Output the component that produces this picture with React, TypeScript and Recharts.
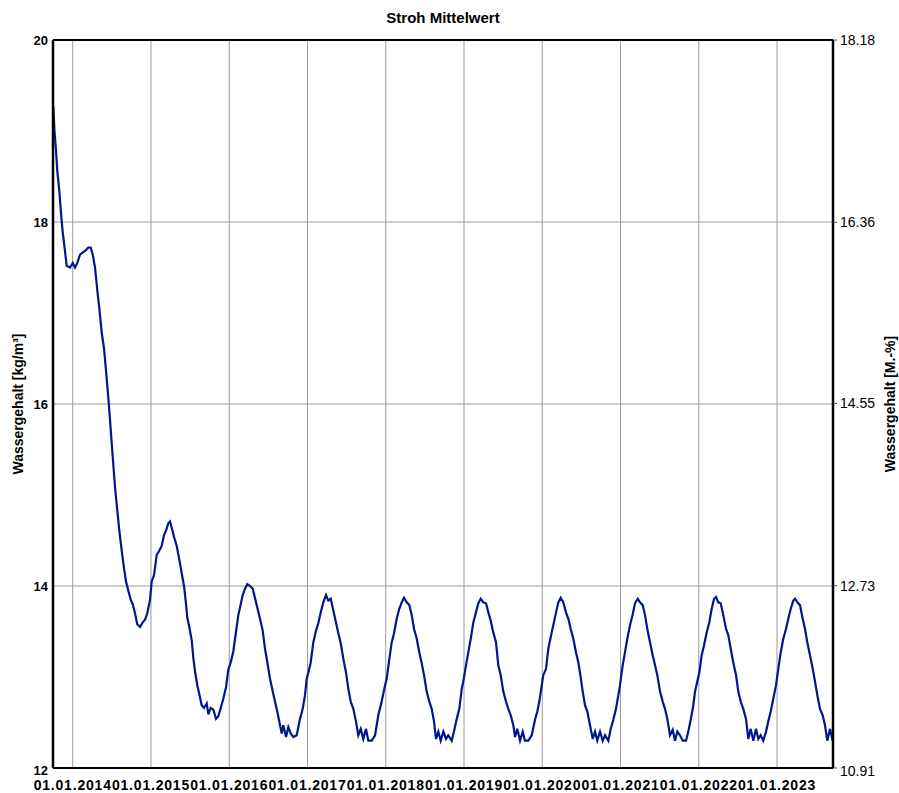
import React from "react";
import { LineChart, Line, XAxis, YAxis, CartesianGrid, ReferenceLine } from "recharts";

// decimal year of each reading
const years: number[] = [
  2013.752, 2013.767, 2013.787, 2013.803, 2013.829, 2013.851, 2013.872, 2013.893, 2013.923, 2013.966,
  2014.000, 2014.029, 2014.059, 2014.093, 2014.135, 2014.170, 2014.199, 2014.230, 2014.256, 2014.285,
  2014.314, 2014.340, 2014.371, 2014.400, 2014.426, 2014.455, 2014.477, 2014.498, 2014.519, 2014.541,
  2014.570, 2014.595, 2014.626, 2014.656, 2014.681, 2014.710, 2014.741, 2014.767, 2014.796, 2014.825,
  2014.860, 2014.894, 2014.924, 2014.953, 2014.988, 2015.009, 2015.039, 2015.073, 2015.107, 2015.137,
  2015.167, 2015.192, 2015.222, 2015.243, 2015.265, 2015.294, 2015.329, 2015.362, 2015.393, 2015.422,
  2015.448, 2015.464, 2015.490, 2015.521, 2015.541, 2015.563, 2015.592, 2015.618, 2015.648, 2015.678,
  2015.712, 2015.733, 2015.763, 2015.797, 2015.831, 2015.861, 2015.891, 2015.924, 2015.959, 2015.988,
  2016.019, 2016.052, 2016.087, 2016.116, 2016.147, 2016.172, 2016.202, 2016.231, 2016.266, 2016.300,
  2016.351, 2016.393, 2016.428, 2016.457, 2016.487, 2016.521, 2016.556, 2016.585, 2016.614, 2016.649,
  2016.671, 2016.691, 2016.726, 2016.755, 2016.786, 2016.819, 2016.862, 2016.904, 2016.939, 2016.968,
  2016.990, 2017.011, 2017.041, 2017.074, 2017.109, 2017.138, 2017.169, 2017.202, 2017.237, 2017.266,
  2017.297, 2017.330, 2017.364, 2017.394, 2017.425, 2017.458, 2017.492, 2017.522, 2017.552, 2017.586,
  2017.620, 2017.649, 2017.680, 2017.713, 2017.748, 2017.777, 2017.821, 2017.863, 2017.905, 2017.948,
  2017.991, 2018.012, 2018.046, 2018.076, 2018.106, 2018.140, 2018.173, 2018.204, 2018.233, 2018.268,
  2018.301, 2018.332, 2018.361, 2018.396, 2018.429, 2018.460, 2018.489, 2018.523, 2018.557, 2018.587,
  2018.617, 2018.642, 2018.672, 2018.702, 2018.736, 2018.770, 2018.799, 2018.843, 2018.872, 2018.907,
  2018.940, 2018.971, 2018.991, 2019.026, 2019.055, 2019.086, 2019.119, 2019.153, 2019.183, 2019.213,
  2019.247, 2019.281, 2019.311, 2019.341, 2019.374, 2019.409, 2019.438, 2019.469, 2019.502, 2019.537,
  2019.566, 2019.597, 2019.630, 2019.652, 2019.681, 2019.716, 2019.750, 2019.779, 2019.822, 2019.865,
  2019.907, 2019.937, 2019.962, 2020.013, 2020.048, 2020.077, 2020.108, 2020.141, 2020.176, 2020.205,
  2020.236, 2020.269, 2020.303, 2020.333, 2020.363, 2020.397, 2020.431, 2020.461, 2020.482, 2020.517,
  2020.546, 2020.576, 2020.610, 2020.645, 2020.674, 2020.703, 2020.738, 2020.772, 2020.802, 2020.844,
  2020.875, 2020.908, 2020.942, 2020.972, 2020.993, 2021.028, 2021.057, 2021.087, 2021.121, 2021.156,
  2021.185, 2021.220, 2021.249, 2021.283, 2021.313, 2021.342, 2021.377, 2021.411, 2021.441, 2021.470,
  2021.505, 2021.539, 2021.568, 2021.598, 2021.632, 2021.667, 2021.696, 2021.726, 2021.760, 2021.795,
  2021.837, 2021.866, 2021.897, 2021.930, 2021.952, 2021.981, 2022.007, 2022.037, 2022.067, 2022.101,
  2022.134, 2022.165, 2022.195, 2022.220, 2022.249, 2022.280, 2022.313, 2022.348, 2022.377, 2022.408,
  2022.441, 2022.476, 2022.505, 2022.536, 2022.569, 2022.603, 2022.633, 2022.663, 2022.697, 2022.731,
  2022.761, 2022.791, 2022.824, 2022.859, 2022.888, 2022.919, 2022.952, 2022.987, 2023.016, 2023.047,
  2023.080, 2023.115, 2023.144, 2023.175, 2023.208, 2023.230, 2023.259, 2023.293, 2023.328, 2023.357,
  2023.387, 2023.421, 2023.456, 2023.485, 2023.515, 2023.549, 2023.583, 2023.613, 2023.642, 2023.677,
  2023.711,
];

// Wassergehalt [kg/m³]
const water: number[] = [
  19.27, 19.00, 18.78, 18.56, 18.34, 18.09, 17.89, 17.74, 17.52, 17.50,
  17.55, 17.50, 17.55, 17.64, 17.67, 17.69, 17.72, 17.72, 17.64, 17.50,
  17.25, 17.05, 16.78, 16.61, 16.36, 16.07, 15.82, 15.57, 15.33, 15.08,
  14.83, 14.61, 14.39, 14.19, 14.05, 13.95, 13.85, 13.80, 13.70, 13.58,
  13.55, 13.60, 13.63, 13.70, 13.85, 14.05, 14.12, 14.34, 14.39, 14.44,
  14.56, 14.61, 14.69, 14.71, 14.64, 14.54, 14.44, 14.29, 14.14, 14.00,
  13.80, 13.65, 13.55, 13.40, 13.21, 13.06, 12.91, 12.81, 12.69, 12.66,
  12.71, 12.59, 12.66, 12.64, 12.54, 12.57, 12.66, 12.76, 12.89, 13.08,
  13.16, 13.28, 13.50, 13.68, 13.80, 13.90, 13.97, 14.02, 14.00, 13.97,
  13.79, 13.64, 13.51, 13.31, 13.16, 12.98, 12.84, 12.73, 12.62, 12.47,
  12.38, 12.47, 12.34, 12.45, 12.38, 12.34, 12.36, 12.54, 12.65, 12.80,
  12.98, 13.05, 13.16, 13.38, 13.51, 13.59, 13.71, 13.82, 13.90, 13.84,
  13.86, 13.73, 13.60, 13.48, 13.37, 13.20, 13.05, 12.87, 12.73, 12.65,
  12.51, 12.36, 12.43, 12.32, 12.43, 12.30, 12.30, 12.36, 12.58, 12.73,
  12.91, 12.98, 13.20, 13.38, 13.48, 13.64, 13.75, 13.82, 13.87, 13.82,
  13.79, 13.68, 13.53, 13.42, 13.27, 13.15, 13.02, 12.84, 12.73, 12.65,
  12.51, 12.32, 12.40, 12.30, 12.40, 12.32, 12.36, 12.30, 12.40, 12.54,
  12.65, 12.87, 12.95, 13.13, 13.27, 13.42, 13.60, 13.71, 13.81, 13.86,
  13.82, 13.81, 13.71, 13.62, 13.49, 13.38, 13.13, 13.02, 12.84, 12.73,
  12.65, 12.58, 12.47, 12.34, 12.43, 12.30, 12.40, 12.30, 12.30, 12.36,
  12.53, 12.62, 12.73, 13.02, 13.09, 13.31, 13.44, 13.57, 13.71, 13.82,
  13.87, 13.82, 13.71, 13.64, 13.53, 13.42, 13.27, 13.16, 13.05, 12.84,
  12.69, 12.62, 12.47, 12.32, 12.40, 12.30, 12.40, 12.30, 12.36, 12.30,
  12.43, 12.53, 12.65, 12.80, 12.91, 13.13, 13.27, 13.42, 13.57, 13.69,
  13.81, 13.86, 13.82, 13.79, 13.68, 13.53, 13.38, 13.24, 13.13, 13.02,
  12.84, 12.73, 12.65, 12.54, 12.36, 12.42, 12.30, 12.40, 12.36, 12.30,
  12.30, 12.40, 12.53, 12.69, 12.84, 12.95, 13.05, 13.24, 13.35, 13.49,
  13.60, 13.75, 13.86, 13.88, 13.82, 13.81, 13.68, 13.53, 13.46, 13.31,
  13.16, 13.02, 12.84, 12.73, 12.65, 12.54, 12.32, 12.43, 12.30, 12.43,
  12.32, 12.36, 12.30, 12.40, 12.51, 12.62, 12.76, 12.91, 13.09, 13.27,
  13.42, 13.53, 13.64, 13.75, 13.84, 13.86, 13.82, 13.79, 13.64, 13.53,
  13.38, 13.24, 13.09, 12.95, 12.80, 12.65, 12.58, 12.47, 12.30, 12.43,
  12.30,
];

const yearTicks: number[] = [2014, 2015, 2016, 2017, 2018, 2019, 2020, 2021, 2022, 2023];
const leftTicks: number[] = [12, 14, 16, 18, 20];
const rightTicks: number[] = [10.91, 12.73, 14.55, 16.36, 18.18];

const data = years.map((t, i) => ({ t, v: water[i] }));

const FONT = "'Liberation Sans', Arial, Helvetica, sans-serif";

const LeftTick = (props: any) => {
  const { x, y, payload } = props;
  const shift = payload.value === 12 ? 2 : 0;
  return (
    <text x={x} y={y + shift} dy="0.355em" textAnchor="end" fontFamily={FONT} fontWeight="bold" fontSize={13} fill="#000">
      {payload.value}
    </text>
  );
};

const RightTick = (props: any) => {
  const { x, y, payload } = props;
  const shift = payload.value === 10.91 ? 3 : 0;
  return (
    <text x={x} y={y + shift} dy="0.355em" textAnchor="start" fontFamily={FONT} fontSize={14} fill="#000">
      {Number(payload.value).toFixed(2)}
    </text>
  );
};

const BottomTick = (props: any) => {
  const { x, y, payload } = props;
  return (
    <text x={x} y={y} dy="0.71em" textAnchor="middle" fontFamily={FONT} fontWeight="bold" fontSize={14} letterSpacing={0.8} fill="#000">
      {`01.01.${payload.value}`}
    </text>
  );
};

export default function App() {
  return (
    <div style={{ position: "absolute", left: 0, top: 0, width: 899, height: 793, background: "#fff" }}>
      <div
        style={{
          position: "absolute",
          left: 53,
          top: 10,
          width: 780,
          textAlign: "center",
          fontFamily: FONT,
          fontWeight: "bold",
          fontSize: 15,
          lineHeight: "16px",
          color: "#000",
        }}
      >
        Stroh Mittelwert
      </div>
      <LineChart width={899} height={793} data={data} margin={{ top: 40, right: 0, bottom: 0, left: 0 }}>
        <CartesianGrid yAxisId="left" stroke="#9a9a9a" strokeWidth={1} />
        <XAxis
          dataKey="t"
          type="number"
          domain={[2013.748, 2023.715]}
          allowDataOverflow
          ticks={yearTicks}
          interval={0}
          tick={<BottomTick />}
          tickLine={false}
          tickSize={0}
          tickMargin={12}
          height={25}
          axisLine={{ stroke: "#000", strokeWidth: 2 }}
        />
        <YAxis
          yAxisId="left"
          orientation="left"
          domain={[12, 20]}
          allowDataOverflow
          ticks={leftTicks}
          interval={0}
          width={53}
          tick={<LeftTick />}
          tickLine={false}
          tickSize={0}
          tickMargin={5}
          axisLine={{ stroke: "#000", strokeWidth: 2.5 }}
          label={{
            value: "Wassergehalt [kg/m³]",
            angle: -90,
            position: "center",
            dx: -8,
            style: { fontFamily: FONT, fontWeight: "bold", fontSize: 14, fill: "#000" },
          }}
        />
        <YAxis
          yAxisId="right"
          orientation="right"
          type="number"
          domain={[10.91, 18.18]}
          allowDataOverflow
          ticks={rightTicks}
          interval={0}
          width={66}
          tick={<RightTick />}
          tickLine={{ stroke: "#555" }}
          tickSize={4}
          tickMargin={3}
          axisLine={{ stroke: "#000", strokeWidth: 2.5 }}
          label={{
            value: "Wassergehalt [M.-%]",
            angle: -90,
            position: "center",
            dx: 24,
            style: { fontFamily: FONT, fontWeight: "bold", fontSize: 14, fill: "#000" },
          }}
        />
        <ReferenceLine yAxisId="left" y={20} stroke="#000" strokeWidth={2} />
        <Line
          yAxisId="right"
          type="linear"
          dataKey="v"
          stroke="none"
          strokeOpacity={0}
          dot={false}
          activeDot={false}
          legendType="none"
          isAnimationActive={false}
        />
        <Line
          yAxisId="left"
          type="linear"
          dataKey="v"
          stroke="#00168c"
          strokeWidth={2.2}
          dot={false}
          isAnimationActive={false}
        />
      </LineChart>
    </div>
  );
}
